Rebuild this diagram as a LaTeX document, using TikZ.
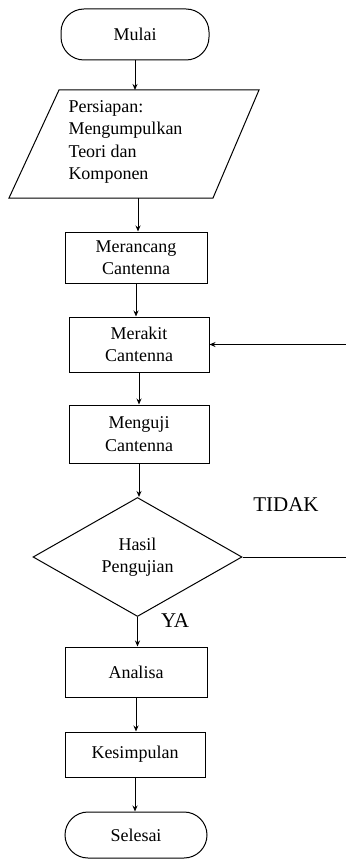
\documentclass[tikz,border=0pt]{standalone}
\usepackage{fontspec}
\setmainfont{Liberation Serif}
\usetikzlibrary{shapes.geometric,arrows.meta}
\newcommand{\txt}{\fontsize{18}{22.3}\selectfont}
\newcommand{\lbl}{\fontsize{21}{25}\selectfont}
\begin{document}
\begin{tikzpicture}[x=1pt,y=-1pt,line width=1pt,
  proc/.style={draw, rectangle, inner sep=0pt, align=center, font=\txt},
  term/.style={draw, rectangle, rounded corners=23pt, inner sep=0pt, font=\txt},
  dec/.style={draw, diamond, inner sep=0pt, align=center, font=\txt},
  flow/.style={-{Stealth[length=6pt,width=5pt]}}]
\useasboundingbox (0,0) rectangle (345,861);
% nodes
\node[term, minimum width=148pt, minimum height=51pt] (mulai) at (135,34.5) {Mulai};
\coordinate (p1) at (59,90);
\coordinate (p2) at (259,90);
\coordinate (p3) at (213,198);
\coordinate (p4) at (9,198);
\draw (p1) -- (p2) -- (p3) -- (p4) -- cycle;
\node[anchor=west, align=left, inner sep=0pt, font=\txt] (prep) at (68,142) {Persiapan:\\Mengumpulkan\\Teori dan\\Komponen};
\coordinate (pb) at (138,198);
\node[proc, minimum width=142pt, minimum height=51pt] (merancang) at (136,257.5) {Merancang\\Cantenna};
\node[proc, minimum width=140pt, minimum height=55pt] (merakit) at (139,344.5) {Merakit\\Cantenna};
\node[proc, minimum width=140pt, minimum height=58pt] (menguji) at (139,434) {Menguji\\Cantenna};
\node[dec, minimum width=209pt, minimum height=119pt] (hasil) at (137.5,557) {Hasil\\Pengujian};
\node[proc, minimum width=142pt, minimum height=50pt] (analisa) at (136,672) {Analisa};
\node[proc, minimum width=140pt, minimum height=45pt] (kesimpulan) at (135,754.5) {Kesimpulan};
\node[term, minimum width=142pt, minimum height=46pt] (selesai) at (136,835) {Selesai};
\node[font=\lbl, inner sep=0pt] (tidak) at (286,505) {TIDAK};
\node[font=\lbl, inner sep=0pt] (ya) at (175,621) {YA};
% connectors
\draw[flow] (mulai.south) -- (mulai.south |- p1);
\draw[flow] (pb) -- (pb |- merancang.north);
\draw[flow] (merancang.south) -- (merancang.south |- merakit.north);
\draw[flow] (merakit.south) -- (merakit.south |- menguji.north);
\draw[flow] (menguji.south) -- (menguji.south |- hasil.north);
\draw[flow] (hasil.south) -- (hasil.south |- analisa.north);
\draw[flow] (analisa.south) -- (analisa.south |- kesimpulan.north);
\draw[flow] (kesimpulan.south) -- (kesimpulan.south |- selesai.north);
\draw[flow] (hasil.east) -- ++(106,0) |- (merakit.east);
\end{tikzpicture}
\end{document}
